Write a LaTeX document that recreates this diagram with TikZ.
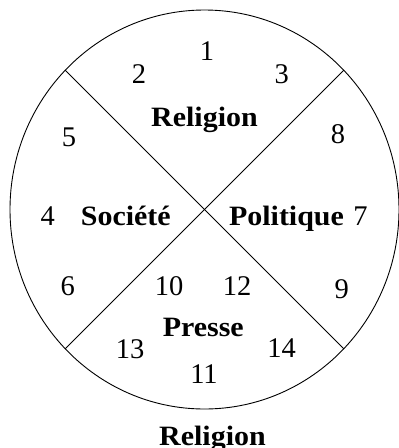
\documentclass[tikz,border=0pt]{standalone}
\usepackage{fontspec}
\setmainfont{Liberation Serif}
\newfontfamily\widebold[FakeStretch=1.07]{Liberation Serif Bold}
\usetikzlibrary{shapes.geometric}
\tikzset{
  num/.style={font=\fontsize{28.5}{28.5}\selectfont, inner sep=0pt, anchor=base},
  word/.style={font=\fontsize{28}{28}\selectfont\widebold, inner sep=0pt, anchor=base},
  rim/.style={draw=black, line width=0.9pt, ellipse, inner sep=0pt, minimum width=389pt, minimum height=399pt},
  cut/.style={draw=black, line width=0.9pt}
}
\begin{document}
\begin{tikzpicture}[x=1pt,y=-1pt]
\useasboundingbox (0,0) rectangle (399,448);
\node[rim] (c) at (204.5,209.5) {};
\draw[cut] (c.135) -- (c.-45);
\draw[cut] (c.45) -- (c.-135);
\node[num] (n1) at (207,60) {1};
\node[num] (n2) at (139,83.5) {2};
\node[num] (n3) at (281.7,83.5) {3};
\node[word] (religion) at (204.5,126.7) {Religion};
\node[num] (n5) at (69,146.7) {5};
\node[num] (n8) at (338,143.3) {8};
\node[num] (n4) at (47.7,225) {4};
\node[word] (societe) at (125.8,225) {Société};
\node[word] (politique) at (286.5,225) {Politique};
\node[num] (n7) at (360.5,225) {7};
\node[num] (n6) at (67.7,295) {6};
\node[num] (n10) at (169,295.7) {10};
\node[num] (n12) at (237,295.7) {12};
\node[num] (n9) at (341.7,298.3) {9};
\node[word] (presse) at (203.3,336.7) {Presse};
\node[num] (n13) at (130,358.3) {13};
\node[num] (n14) at (281.7,357.3) {14};
\node[num] (n11) at (204,383.3) {11};
\node[word] (caption) at (212.5,445.7) {Religion};
\end{tikzpicture}
\end{document}
